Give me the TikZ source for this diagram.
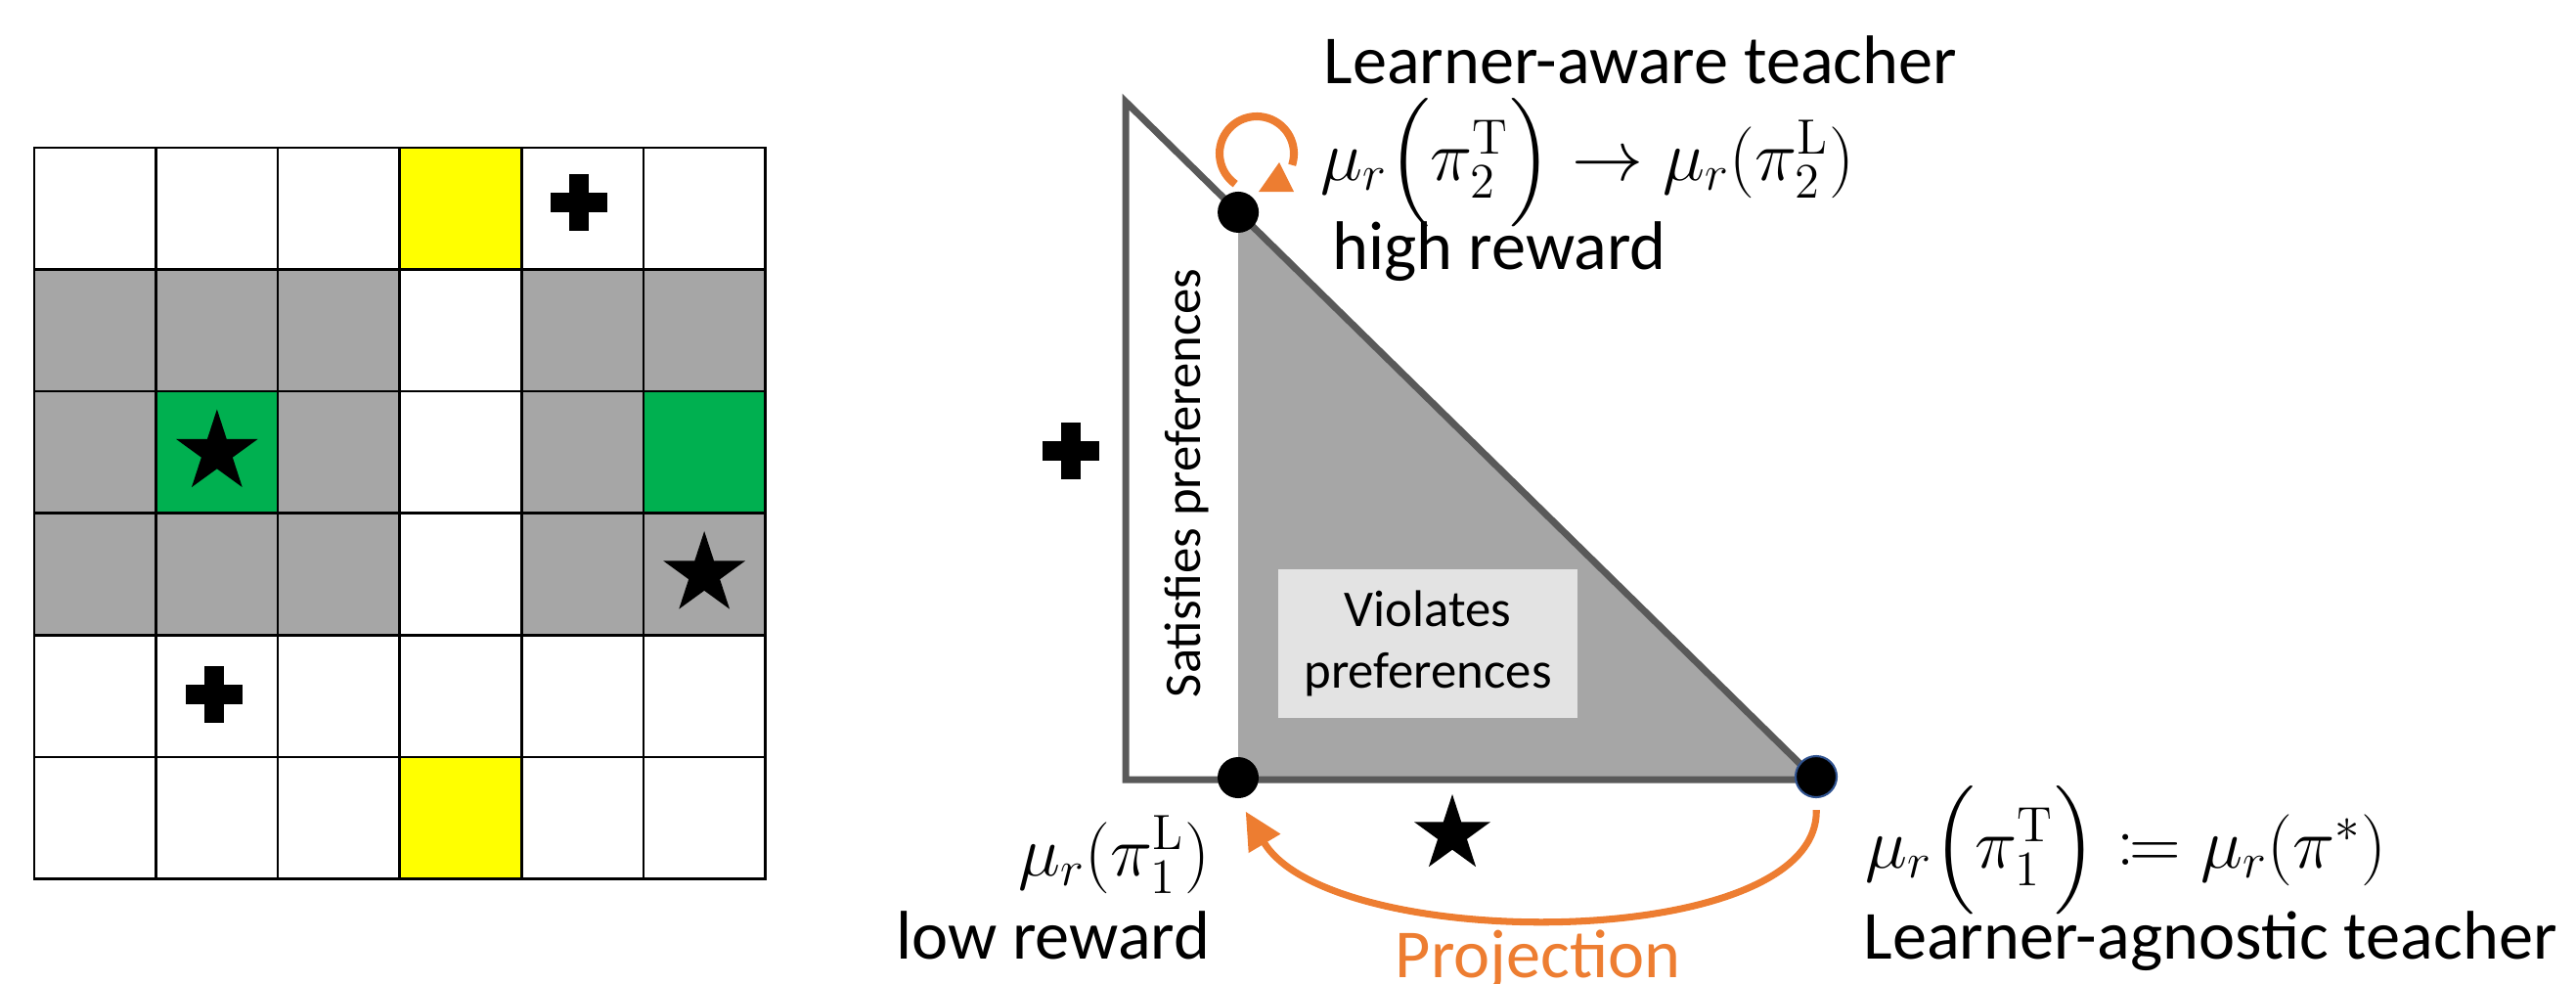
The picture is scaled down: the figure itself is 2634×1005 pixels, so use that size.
\documentclass[tikz,border=0pt]{standalone}
\usepackage{mathtools}
\usepackage[no-math]{fontspec}
\setmainfont{Carlito}
\usetikzlibrary{shapes.geometric,arrows.meta,calc}

\definecolor{cellgray}{HTML}{A6A6A6}
\definecolor{cellgreen}{HTML}{00B050}
\definecolor{cellyellow}{HTML}{FFFF00}
\definecolor{edgegray}{HTML}{595959}
\definecolor{boxgray}{HTML}{E3E3E3}
\definecolor{projorange}{HTML}{ED7D31}
\definecolor{dotblue}{HTML}{2F528F}

\tikzset{
  dot/.style={circle,fill=black,inner sep=0pt,minimum size=0.42cm},
  blackstar/.style={star,star points=5,star point ratio=2.618,fill=black,inner sep=0pt,minimum size=#1},
  bigtext/.style={font=\fontsize{20}{24}\selectfont,inner sep=0pt},
  smalltext/.style={font=\fontsize{15}{18}\selectfont,inner sep=0pt},
  pics/plussign/.style={code={
    \fill (-0.29cm,-0.1cm) rectangle (0.29cm,0.1cm);
    \fill (-0.1cm,-0.29cm) rectangle (0.1cm,0.29cm);
  }}
}

\begin{document}
\begin{tikzpicture}[x=0.01cm,y=0.01cm]
\useasboundingbox (0,0) rectangle (2634,-1005);

% gridworld
\begin{scope}[shift={(35,-151)},x=1.245cm,y=-1.245cm]
  \foreach \r in {1,2,3}
    \foreach \c in {0,1,2,4,5}
      \fill[cellgray] (\c,\r) rectangle ++(1,1);
  \fill[cellgreen] (1,2) rectangle ++(1,1);
  \fill[cellgreen] (5,2) rectangle ++(1,1);
  \fill[cellyellow] (3,0) rectangle ++(1,1);
  \fill[cellyellow] (3,5) rectangle ++(1,1);
  \foreach \i in {0,...,6} {
    \draw[line width=0.75pt] (\i,0) -- (\i,6);
    \draw[line width=0.75pt] (0,\i) -- (6,\i);
  }
  \draw[line width=0.75pt] (0,0) rectangle (6,6);
  \node[blackstar=0.88cm] (star1) at (1.5,2.5) {};
  \node[blackstar=0.88cm] (star2) at (5.5,3.5) {};
  \pic at (4.47,0.45) {plussign};
  \pic at (1.48,4.49) {plussign};
\end{scope}

% policy region
\coordinate (A) at (1151,-104);
\coordinate (B) at (1151,-797);
\coordinate (C) at (1857,-797);
\coordinate (T) at ($(A)!0.163!(C)$);
\fill[cellgray] (T) -- (C) -- (T |- C) -- cycle;
\draw[edgegray,line width=2pt,line join=miter] (A) -- (B) -- (C) -- cycle;
\node[fill=boxgray,smalltext,align=center,minimum width=3.05cm,minimum height=1.52cm]
  (violates) at (1460,-658) {Violates\\preferences};
\node[smalltext,rotate=90,anchor=base] (satisfies) at (1227,-494) {Satisfies preferences};
\pic at (1095,-461) {plussign};
\node[blackstar=0.82cm] (star3) at (1485,-853) {};

% vertices
\node[dot] (hightop) at (T) {};
\node[dot] (lowdot) at (1266,-795) {};
\node[dot,draw=dotblue,line width=0.6pt] (optdot) at (1857,-794) {};

% self loop
\draw[projorange,line width=2.3pt] (1285,-157) ++(235:38) arc[start angle=235,end angle=-18,radius=38];
\fill[projorange] (1287,-196) -- (1323,-196) -- (1308,-166) -- cycle;

% projection
\draw[projorange,line width=2pt,-{Triangle[length=0.38cm,width=0.36cm]},
      shorten <=0.12cm,shorten >=0.15cm]
  (optdot.south) .. controls (1860,-975) and (1360,-975) .. (lowdot.south);

% labels
\node[bigtext,anchor=base west] (awaretitle) at (1353,-85) {Learner-aware teacher};
\node[bigtext,anchor=base west] (awaremath) at (1350,-184)
  {$\mu_r\Bigl(\pi_2^{\mathrm{T}}\Bigr)\rightarrow\mu_r(\pi_2^{\mathrm{L}})$};
\node[bigtext,anchor=base west] (highlabel) at (1362,-275) {high reward};
\node[bigtext,anchor=base east] (lowmath) at (1238,-895) {$\mu_r(\pi_1^{\mathrm{L}})$};
\node[bigtext,anchor=base east] (lowlabel) at (1238,-980) {low reward};
\node[bigtext,anchor=base west,text=projorange] (projlabel) at (1426,-999) {Projection};
\node[bigtext,anchor=base west] (agnmath) at (1907,-887)
  {$\mu_r\Bigl(\pi_1^{\mathrm{T}}\Bigr)\coloneqq\mu_r(\pi^*)$};
\node[bigtext,anchor=base west] (agntitle) at (1905,-980) {Learner-agnostic teacher};
\end{tikzpicture}
\end{document}
